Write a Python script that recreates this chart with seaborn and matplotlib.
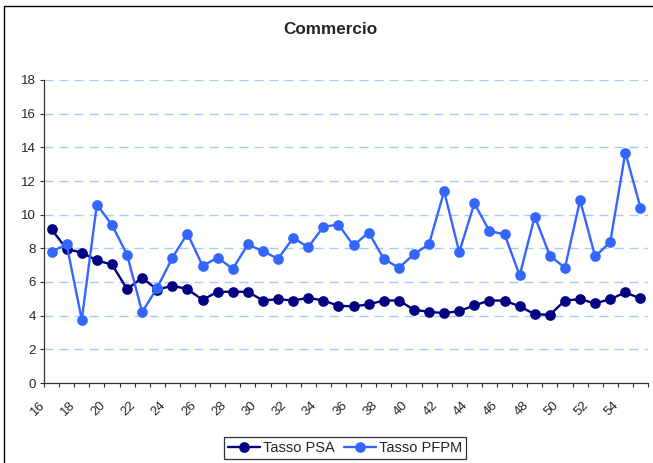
import matplotlib
matplotlib.use("Agg")
import matplotlib.pyplot as plt
import matplotlib.transforms as mtransforms
from matplotlib.patches import Rectangle
import seaborn as sns
import pandas as pd
import numpy as np

eta = list(range(16, 56))
tasso_psa = [9.14, 7.95, 7.75, 7.28, 7.04, 5.58, 6.25, 5.54, 5.78, 5.58,
             4.94, 5.42, 5.42, 5.42, 4.90, 4.98, 4.90, 5.06, 4.90, 4.59,
             4.55, 4.67, 4.90, 4.90, 4.35, 4.23, 4.15, 4.27, 4.61, 4.90,
             4.90, 4.55, 4.09, 4.05, 4.90, 4.98, 4.73, 4.98, 5.38, 5.02]
tasso_pfpm = [7.81, 8.23, 3.76, 10.60, 9.39, 7.63, 4.21, 5.66, 7.44, 8.88,
              6.96, 7.44, 6.78, 8.23, 7.83, 7.38, 8.62, 8.07, 9.28, 9.41,
              8.17, 8.94, 7.38, 6.84, 7.65, 8.25, 11.39, 7.77, 10.68, 9.02,
              8.84, 6.39, 9.89, 7.57, 6.84, 10.86, 7.52, 8.37, 13.69, 10.42]
series_names = ["Tasso PSA", "Tasso PFPM"]
tick_labels = [str(v) for v in range(16, 56, 2)]
y_ticks = list(range(0, 20, 2))
title = "Commercio"

sns.set_theme(style="white")
plt.rcParams['font.family'] = ['Liberation Sans', 'DejaVu Sans']

W, H = 653, 463
fig = plt.figure(figsize=(W / 100, H / 100), dpi=100)
ax = fig.add_axes([44 / W, 1 - 383 / H, (648 - 44) / W, (383 - 80) / H])

colors = ["#000080", "#3366FF"]
df = pd.DataFrame({"eta": eta, series_names[0]: tasso_psa, series_names[1]: tasso_pfpm})
for name, col in zip(series_names, colors):
    sns.lineplot(data=df, x="eta", y=name, ax=ax, color=col, marker="o",
                 markersize=7.7, markeredgewidth=0, linewidth=1.7, label=name,
                 legend=False)

ax.set_xlim(15.5, 55.5)
ax.set_ylim(0, 18)
ax.set_yticks(y_ticks)
ax.set_yticklabels([str(v) for v in y_ticks], fontsize=9.5)
for v in y_ticks[1:]:
    ax.axhline(v, color="#A0CFFF", lw=1.0, dashes=(6.5, 4.3), zorder=0)

ax.set_xticks([int(t) for t in tick_labels])
ax.set_xticklabels(tick_labels, fontsize=9.5, rotation=45, ha="right")
ax.set_xticks(np.arange(15.5, 56, 1.0), minor=True)
ax.tick_params(axis="x", which="major", length=0, pad=11.5)
ax.tick_params(axis="x", which="minor", length=3, width=0.8, color="#333333", direction="out", bottom=True)
ax.tick_params(axis="y", which="major", length=3, width=0.8, color="#333333", direction="out", left=True, pad=3)
offset = mtransforms.ScaledTranslation(-4 / 100, 0, fig.dpi_scale_trans)
for lbl in ax.get_xticklabels():
    lbl.set_transform(lbl.get_transform() + offset)

ax.set_xlabel("")
ax.set_ylabel("")
for s in ["top", "right"]:
    ax.spines[s].set_visible(False)
for s in ["left", "bottom"]:
    ax.spines[s].set_color("#333333")
    ax.spines[s].set_linewidth(0.9)
ax.grid(False)

fig.text(330 / W, 1 - 30 / H, title, ha="center", va="center", fontsize=12.3, fontweight="bold")

handles = ax.get_lines()[:2]
leg = fig.legend(handles, series_names, loc="center", bbox_to_anchor=(345 / W, 1 - 448 / H),
                 fontsize=10.5, frameon=True, fancybox=False, edgecolor="black",
                 ncol=2, handlelength=2.2, handletextpad=0.2, columnspacing=0.6,
                 borderpad=0.25, borderaxespad=0)
leg.get_frame().set_linewidth(0.9)

fig.patches.append(Rectangle((4 / W, -0.05), 1.2, 1 - 6 / H + 0.05, transform=fig.transFigure,
                             fill=False, edgecolor="black", lw=1.0))

fig.savefig("out.png", dpi=100)
